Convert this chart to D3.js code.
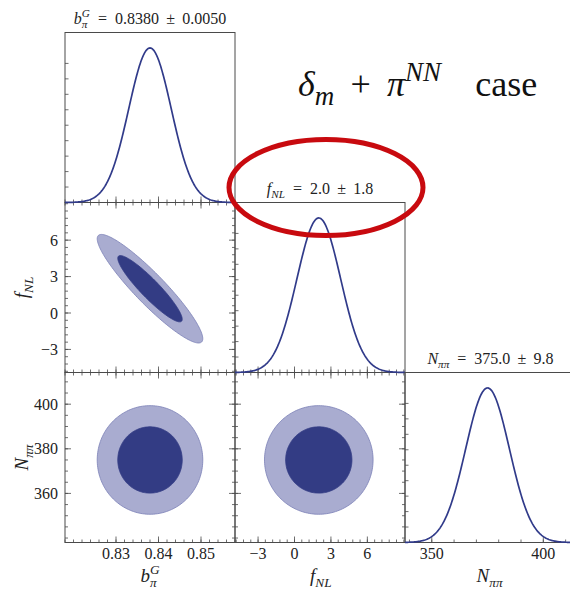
<!DOCTYPE html>
<html>
<head>
<meta charset="utf-8">
<script src="https://cdn.jsdelivr.net/npm/d3@7"></script>
</head>
<body style="margin:0">
<svg id="corner" width="570" height="590"></svg>
<script>
// fitted parameters: b_pi^G, f_NL, N_pipi
const params = ["b", "f", "N"];
const means = [0.838, 2.0, 375.0];
const sigmas = [0.005, 1.8, 9.8];
const meanLabels = ["0.8380", "2.0", "375.0"];
const errLabels = ["0.0050", "1.8", "9.8"];

// plotted range of each parameter
const domains = [[0.818, 0.858], [-4.9, 9.1], [338, 414.2]];

// correlation of each off-diagonal pair [col, row]
const pairs = [[0, 1], [0, 2], [1, 2]];
const rhos = [-0.92, 0.0, 0.0];

// delta chi^2 of the 95% and 68% regions (2 dof)
const levels = [6.17, 2.30];

// tick values
const majorX = [[0.83, 0.84, 0.85], [-3, 0, 3, 6], [350, 400]];
const minorStepX = [0.002, 0.6, 10];
const majorY = [[], [-3, 0, 3, 6], [360, 380, 400]];
const minorStepY = [0.002, 0.6, 5];
const pdfTicks = [0.1, 0.2, 0.3, 0.4, 0.5, 0.6, 0.7, 0.8, 0.9];
const tickFormats = [d3.format(".2f"), d3.format("d"), d3.format("d")];

// math labels of the parameters (back = shift left, in em of the label)
const symbols = [
  [{ t: "b", i: true }, { t: "π", i: true, sub: true }, { t: "G", i: true, sup: true, back: 0.35 }],
  [{ t: "f", i: true }, { t: "NL", i: true, sub: true }],
  [{ t: "N", i: true }, { t: "ππ", i: true, sub: true }]
];

const width = 570, height = 590;
const marginL = 65, marginT = 32.5, cell = 170;
const fontName = "Liberation Serif";
const frameColor = "#4a4a4a";
const lineColor = "#313b8a";
const darkFill = "#333c84";
const lightFill = "#a9acd0";

// write a small math expression into a text element
function mathText(text, parts, size) {
  let shift = 0, carry = 0;
  text.attr("font-family", fontName)
    .style("font-family", `"${fontName}"`)
    .attr("font-size", size);
  parts.forEach(p => {
    const small = p.sub || p.sup;
    const fs = small ? size * (p.scale || 0.7) : size;
    const target = p.sup ? -0.42 * size : p.sub ? 0.25 * size : 0;
    const ts = text.append("tspan")
      .style("font-family", `"${fontName}"`)
      .attr("font-size", fs)
      .attr("font-style", p.i ? "italic" : "normal")
      .attr("dy", target - shift)
      .text(p.t);
    const dx = carry + (p.pad || 0) * size - (p.back || 0) * size;
    if (dx) ts.attr("dx", dx);
    carry = (p.pad || 0) * size;
    shift = target;
  });
}

function minorValues(domain, step) {
  const out = [];
  for (let k = Math.ceil(domain[0] / step - 1e-9); k * step <= domain[1] + 1e-9; k++) {
    out.push(+(k * step).toFixed(6));
  }
  return out;
}

// inward ticks along one side of a panel
function sideTicks(g, side, scale, values, len, x0, x1, y0, y1) {
  g.selectAll(null)
    .data(values)
    .enter()
    .append("line")
      .attr("stroke", frameColor)
      .attr("stroke-width", 0.8)
      .attr("x1", v => side === "left" ? x0 : side === "right" ? x1 : scale(v))
      .attr("x2", v => side === "left" ? x0 + len : side === "right" ? x1 - len : scale(v))
      .attr("y1", v => side === "top" ? y0 : side === "bottom" ? y1 : scale(v))
      .attr("y2", v => side === "top" ? y0 + len : side === "bottom" ? y1 - len : scale(v));
}

function draw() {
  const svg = d3.select("#corner")
    .attr("width", width)
    .attr("height", height)
    .style("font-family", `"${fontName}"`);

  const xs = domains.map((d, i) => d3.scaleLinear().domain(d).range([marginL + i * cell, marginL + (i + 1) * cell]));
  const ys = domains.map((d, j) => d3.scaleLinear().domain(d).range([marginT + (j + 1) * cell, marginT + j * cell]));
  const pdfY = params.map((p, i) => d3.scaleLinear().domain([0, 1.1]).range([marginT + (i + 1) * cell, marginT + i * cell]));

  const panels = svg.append("g");

  // off-diagonal: confidence regions
  pairs.forEach(([i, j], k) => {
    const x0 = marginL + i * cell, x1 = x0 + cell;
    const y0 = marginT + j * cell, y1 = y0 + cell;
    const g = panels.append("g");
    const rho = rhos[k];

    const ellipse = d3.line()
      .x(t => xs[i](t.x))
      .y(t => ys[j](t.y))
      .curve(d3.curveLinearClosed);

    levels.forEach((lev, n) => {
      const r = Math.sqrt(lev);
      const pts = d3.range(0, 180).map(a => {
        const th = a / 180 * 2 * Math.PI;
        const u = r * Math.cos(th), v = r * Math.sin(th);
        return {
          x: means[i] + sigmas[i] * u,
          y: means[j] + sigmas[j] * (rho * u + Math.sqrt(1 - rho * rho) * v)
        };
      });
      g.append("path")
        .attr("d", ellipse(pts))
        .attr("fill", n === 0 ? lightFill : darkFill)
        .attr("stroke", n === 0 ? "#7b80b6" : darkFill)
        .attr("stroke-width", 0.8);
    });

    g.append("rect")
      .attr("x", x0).attr("y", y0).attr("width", cell).attr("height", cell)
      .attr("fill", "none").attr("stroke", frameColor).attr("stroke-width", 1);

    ["top", "bottom"].forEach(s => {
      sideTicks(g, s, xs[i], minorValues(domains[i], minorStepX[i]), 3, x0, x1, y0, y1);
      sideTicks(g, s, xs[i], majorX[i], 6, x0, x1, y0, y1);
    });
    ["left", "right"].forEach(s => {
      sideTicks(g, s, ys[j], minorValues(domains[j], minorStepY[j]), 3, x0, x1, y0, y1);
      sideTicks(g, s, ys[j], majorY[j], 6, x0, x1, y0, y1);
    });
  });

  // diagonal: marginal distributions
  params.forEach((p, i) => {
    const x0 = marginL + i * cell, x1 = x0 + cell;
    const y0 = marginT + i * cell, y1 = y0 + cell;
    const g = panels.append("g");

    const grid = d3.range(0, 241).map(k => domains[i][0] + (domains[i][1] - domains[i][0]) * k / 240);
    const curve = d3.line()
      .x(v => xs[i](v))
      .y(v => pdfY[i](Math.exp(-0.5 * Math.pow((v - means[i]) / sigmas[i], 2))));

    g.append("rect")
      .attr("x", x0).attr("y", y0).attr("width", cell).attr("height", cell)
      .attr("fill", "none").attr("stroke", frameColor).attr("stroke-width", 1);

    sideTicks(g, "bottom", xs[i], minorValues(domains[i], minorStepX[i]), 3, x0, x1, y0, y1);
    sideTicks(g, "bottom", xs[i], majorX[i], 6, x0, x1, y0, y1);
    sideTicks(g, "left", pdfY[i], pdfTicks, 3.5, x0, x1, y0, y1);

    g.append("path")
      .attr("d", curve(grid))
      .attr("fill", "none")
      .attr("stroke", lineColor)
      .attr("stroke-width", 1.7);

    // mean +- sigma on top of the panel
    const label = g.append("text")
      .attr("x", (x0 + Math.min(x1, width)) / 2 + (i === 2 ? 3 : 0))
      .attr("y", y0 - 9)
      .attr("text-anchor", "middle")
      .attr("fill", "#222");
    mathText(label, symbols[i].concat([
      { t: "=", pad: 0.5 },
      { t: meanLabels[i] },
      { t: "±", pad: 0.45 },
      { t: errLabels[i] }
    ]), 16);
  });

  // tick labels along the bottom row
  params.forEach((p, i) => {
    svg.append("g")
      .selectAll("text")
      .data(majorX[i])
      .enter()
      .append("text")
        .attr("x", v => xs[i](v))
        .attr("y", marginT + 3 * cell + 16.5)
        .attr("text-anchor", "middle")
        .attr("font-family", fontName)
        .style("font-family", `"${fontName}"`)
        .attr("font-size", 16)
        .attr("fill", "#222")
        .text(v => tickFormats[i](v));

    const t = svg.append("text")
      .attr("x", xs[i](means[i]) + (i === 0 ? 0 : 2))
      .attr("y", 582)
      .attr("text-anchor", "middle")
      .attr("fill", "#222");
    mathText(t, symbols[i], 19);
  });

  // tick labels along the left column
  [1, 2].forEach(j => {
    svg.append("g")
      .selectAll("text")
      .data(majorY[j])
      .enter()
      .append("text")
        .attr("x", marginL - 7)
        .attr("y", v => ys[j](v))
        .attr("dy", "0.35em")
        .attr("text-anchor", "end")
        .attr("font-family", fontName)
        .style("font-family", `"${fontName}"`)
        .attr("font-size", 16)
        .attr("fill", "#222")
        .text(v => tickFormats[j](v));

    const cy = marginT + (j + 0.5) * cell;
    const t = svg.append("text")
      .attr("transform", `translate(28, ${cy}) rotate(-90)`)
      .attr("text-anchor", "middle")
      .attr("fill", "#222");
    mathText(t, symbols[j], 19);
  });

  // case title
  const title = svg.append("text")
    .attr("x", 298)
    .attr("y", 96)
    .attr("fill", "#111");
  mathText(title, [
    { t: "δ", i: true },
    { t: "m", i: true, sub: true, scale: 0.75 },
    { t: "+", pad: 0.45 },
    { t: "π", i: true },
    { t: "NN", i: true, sup: true, scale: 0.75 },
    { t: "case", pad: 0.95 }
  ], 36);

  // red highlight round the f_NL result
  svg.append("ellipse")
    .attr("cx", marginL + 1.5 * cell + 6)
    .attr("cy", marginT + cell - 15)
    .attr("rx", 97)
    .attr("ry", 48)
    .attr("fill", "none")
    .attr("stroke", "#c80a0f")
    .attr("stroke-width", 5);
}

if (document.fonts && document.fonts.load) {
  Promise.all([
    document.fonts.load(`16px "${fontName}"`),
    document.fonts.load(`italic 16px "${fontName}"`)
  ]).then(draw, draw);
} else {
  draw();
}
</script>
</body>
</html>
